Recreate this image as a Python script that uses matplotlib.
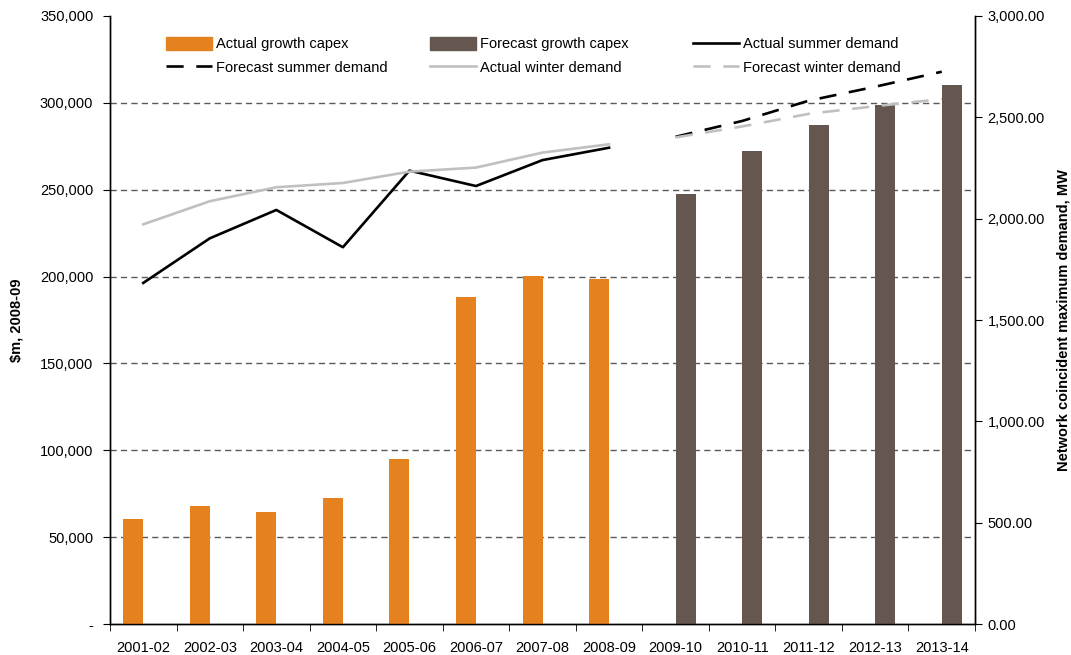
import matplotlib
matplotlib.use("Agg")
import matplotlib.pyplot as plt
import numpy as np
from matplotlib.ticker import FuncFormatter, MultipleLocator, FixedLocator
from matplotlib.lines import Line2D
from matplotlib.patches import Patch

plt.rcParams['font.family'] = ['Liberation Sans', 'DejaVu Sans']

years = ["2001-02", "2002-03", "2003-04", "2004-05", "2005-06", "2006-07", "2007-08",
         "2008-09", "2009-10", "2010-11", "2011-12", "2012-13", "2013-14"]

actual_capex = [60500, 68000, 64500, 72500, 95000, 188500, 200500, 198500]
forecast_capex = [247500, 272000, 287500, 298500, 310500]

actual_summer = [1683, 1903, 2043, 1859, 2237, 2161, 2289, 2350]
actual_winter = [1972, 2086, 2155, 2176, 2232, 2252, 2326, 2367]
forecast_summer = [2404, 2482, 2582, 2651, 2725]
forecast_winter = [2401, 2455, 2517, 2555, 2590]

orange = "#E6811F"
brown = "#655650"
grey = "#C0C0C0"
FS = 10.5
LW = 1.9
DASH = (0, (6.5, 4.8))

fig = plt.figure(figsize=(10.71, 6.55), dpi=100)
ax = fig.add_axes([0.1027, 0.0473, 0.8077, 0.9283])
ax2 = ax.twinx()

x = np.arange(len(years))
n_act = len(actual_capex)
xa = x[:n_act]
xf = x[n_act:]
bw = 0.30

# capex bars: actual sits left of the category centre, forecast to the right
ax.bar(xa, actual_capex, width=-bw, align='edge', color=orange, zorder=3)
ax.bar(xf, forecast_capex, width=bw, align='edge', color=brown, zorder=3)

ax.set_xlim(-0.5, len(years) - 0.5)
ax.set_ylim(0, 350000)
ax.yaxis.set_major_locator(MultipleLocator(50000))
ax.yaxis.set_major_formatter(FuncFormatter(lambda v, p: "-" if v == 0 else f"{v:,.0f}"))
for yv in range(50000, 350000, 50000):
    ax.axhline(yv, color="#5a5a5a", lw=1.0, ls=(0, (4.5, 3)), zorder=1)

ax.set_xticks(x)
ax.set_xticklabels(years)
ax.xaxis.set_minor_locator(FixedLocator(np.arange(-0.5, len(years), 1.0)))
ax.tick_params(axis='x', which='major', length=0, pad=12, labelsize=FS)
ax.tick_params(axis='x', which='minor', length=5, direction='out')
ax.tick_params(axis='y', length=5, direction='out', labelsize=FS, pad=7)
ax.set_ylabel("$m, 2008-09", fontweight='bold', fontsize=FS, labelpad=12)

# demand lines on the secondary axis
ax2.plot(xa, actual_summer, color='black', lw=LW, zorder=4)
ax2.plot(xa, actual_winter, color=grey, lw=LW, zorder=4)
ax2.plot(xf, forecast_summer, color='black', lw=LW, ls=DASH, zorder=4)
ax2.plot(xf, forecast_winter, color=grey, lw=LW, ls=DASH, zorder=4)
ax2.set_ylim(0, 3000)
ax2.yaxis.set_major_locator(MultipleLocator(500))
ax2.yaxis.set_major_formatter(FuncFormatter(lambda v, p: f"{v:,.2f}"))
ax2.tick_params(axis='y', length=5, direction='out', labelsize=FS, pad=4)
ax2.set_ylabel("Network coincident maximum demand, MW", fontweight='bold', fontsize=FS,
               labelpad=8)

for a in (ax, ax2):
    a.spines['top'].set_visible(False)
    for s in ('left', 'right', 'bottom'):
        a.spines[s].set_linewidth(1.0)
        a.spines[s].set_color('black')

legend_cols = [
    (166, [Patch(color=orange, label="Actual growth capex"),
           Line2D([], [], color='black', lw=LW, ls=DASH, label="Forecast summer demand")]),
    (430, [Patch(color=brown, label="Forecast growth capex"),
           Line2D([], [], color=grey, lw=LW, label="Actual winter demand")]),
    (693, [Line2D([], [], color='black', lw=LW, label="Actual summer demand"),
           Line2D([], [], color=grey, lw=LW, ls=DASH, label="Forecast winter demand")]),
]
W, H = 1071, 655
for px, hs in legend_cols:
    leg = fig.legend(handles=hs, ncol=1, frameon=False, loc='upper left',
                     bbox_to_anchor=(px / W, 1 - 37 / H), bbox_transform=fig.transFigure,
                     fontsize=FS, handlelength=3.15, handleheight=0.95,
                     handletextpad=0.3, labelspacing=0.62, borderpad=0, borderaxespad=0)

fig.savefig("out.png", dpi=100)
